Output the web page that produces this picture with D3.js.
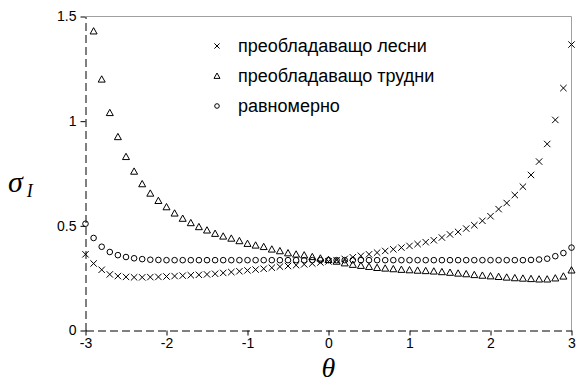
<!DOCTYPE html>
<html>
<head>
<meta charset="utf-8">
<script src="https://cdn.jsdelivr.net/npm/d3@7"></script>
<style>
  html, body { margin: 0; padding: 0; background: #fff; }
  svg { display: block; }
</style>
</head>
<body>
<svg id="chart" width="578" height="388"></svg>
<script>
// ---- data ----
const theta = [-3.0,-2.9,-2.8,-2.7,-2.6,-2.5,-2.4,-2.3,-2.2,-2.1,
  -2.0,-1.9,-1.8,-1.7,-1.6,-1.5,-1.4,-1.3,-1.2,-1.1,
  -1.0,-0.9,-0.8,-0.7,-0.6,-0.5,-0.4,-0.3,-0.2,-0.1,
  0.0,0.1,0.2,0.3,0.4,0.5,0.6,0.7,0.8,0.9,
  1.0,1.1,1.2,1.3,1.4,1.5,1.6,1.7,1.8,1.9,
  2.0,2.1,2.2,2.3,2.4,2.5,2.6,2.7,2.8,2.9,3.0];

const easy = [0.364,0.320,0.290,0.268,0.260,0.256,0.254,0.254,0.255,0.256,
  0.258,0.260,0.262,0.264,0.266,0.268,0.271,0.275,0.279,0.283,
  0.287,0.291,0.295,0.300,0.305,0.308,0.312,0.316,0.320,0.325,
  0.330,0.336,0.342,0.350,0.357,0.364,0.372,0.380,0.388,0.396,
  0.404,0.413,0.422,0.431,0.444,0.459,0.471,0.487,0.503,0.524,
  0.546,0.580,0.609,0.647,0.687,0.743,0.807,0.891,1.006,1.158,1.366];

const hard = [null,1.430,1.200,1.040,0.925,0.830,0.760,0.700,0.655,0.620,
  0.590,0.560,0.535,0.514,0.495,0.479,0.463,0.450,0.440,0.428,
  0.415,0.407,0.400,0.388,0.380,0.370,0.364,0.360,0.352,0.345,
  0.338,0.330,0.322,0.315,0.310,0.305,0.300,0.297,0.294,0.291,
  0.289,0.287,0.285,0.283,0.280,0.277,0.273,0.270,0.266,0.263,
  0.260,0.257,0.254,0.251,0.249,0.247,0.245,0.245,0.250,0.259,0.288];

const uniform = [0.510,0.442,0.400,0.375,0.360,0.351,0.345,0.341,0.338,0.337,
  0.336,0.336,0.336,0.336,0.336,0.336,0.336,0.336,0.336,0.336,
  0.336,0.336,0.336,0.336,0.336,0.336,0.336,0.336,0.336,0.336,
  0.336,0.336,0.336,0.336,0.336,0.336,0.336,0.336,0.336,0.336,
  0.336,0.336,0.336,0.336,0.336,0.336,0.336,0.336,0.336,0.336,
  0.336,0.336,0.336,0.336,0.336,0.337,0.339,0.343,0.355,0.370,0.396];

const seriesNames = ["преобладаващо лесни", "преобладаващо трудни", "равномерно"];
const xTicks = [-3,-2,-1,0,1,2,3];
const yTicks = [0,0.5,1,1.5];
const xTickLabels = ["-3","-2","-1","0","1","2","3"];
const yTickLabels = ["0","0.5","1","1.5"];

// ---- drawing ----
const svg = d3.select("#chart");
const x = d3.scaleLinear().domain([-3, 3]).range([85.5, 571.5]);
const y = d3.scaleLinear().domain([0, 1.5]).range([330.5, 16.5]);

// top & right border (grey)
svg.append("line").attr("x1", x(-3)).attr("x2", x(3)).attr("y1", y(1.5)).attr("y2", y(1.5))
  .attr("stroke", "#a0a0a0").attr("stroke-width", 1);
svg.append("line").attr("x1", x(3)).attr("x2", x(3)).attr("y1", y(1.5)).attr("y2", y(0))
  .attr("stroke", "#a0a0a0").attr("stroke-width", 1);

const font = "'Liberation Sans', Arial, sans-serif";

// axes
const xAxis = d3.axisBottom(x).tickValues(xTicks)
  .tickFormat((d, i) => xTickLabels[i]).tickSizeInner(5).tickSizeOuter(0).tickPadding(3);
const gx = svg.append("g").attr("transform", `translate(0,${y(0)})`).call(xAxis);
gx.select(".domain").attr("stroke", "#000").attr("stroke-dasharray", "8,4");
gx.selectAll(".tick line").attr("stroke", "#000");
gx.selectAll(".tick text").attr("font-family", font).attr("font-size", 14).attr("fill", "#000");

const yAxis = d3.axisLeft(y).tickValues(yTicks)
  .tickFormat((d, i) => yTickLabels[i]).tickSizeInner(5).tickSizeOuter(0).tickPadding(4);
const gy = svg.append("g").attr("transform", `translate(${x(-3)},0)`).call(yAxis);
gy.select(".domain").attr("stroke", "#000").attr("stroke-dasharray", "8,4");
gy.selectAll(".tick line").attr("stroke", "#000");
gy.selectAll(".tick text").attr("font-family", font).attr("font-size", 14).attr("fill", "#000");

// marker generators
function drawCross(g, cx, cy, s) {
  g.append("path").attr("d", `M${cx - s},${cy - s}L${cx + s},${cy + s}M${cx - s},${cy + s}L${cx + s},${cy - s}`)
    .attr("stroke", "#000").attr("stroke-width", 1).attr("fill", "none");
}
function drawTri(g, cx, cy, s) {
  g.append("path").attr("d", `M${cx},${cy - s}L${cx + s},${cy + s * 0.8}L${cx - s},${cy + s * 0.8}Z`)
    .attr("stroke", "#000").attr("stroke-width", 1).attr("fill", "none");
}
function drawCirc(g, cx, cy, r) {
  g.append("circle").attr("cx", cx).attr("cy", cy).attr("r", r)
    .attr("stroke", "#000").attr("stroke-width", 1).attr("fill", "none");
}

const marks = svg.append("g");
theta.forEach((t, i) => {
  if (uniform[i] != null) drawCirc(marks, x(t), y(uniform[i]), 2.8);
  if (hard[i] != null) drawTri(marks, x(t), y(hard[i]), 3.5);
  if (easy[i] != null) drawCross(marks, x(t), y(easy[i]), 3.2);
});

// legend
const legend = svg.append("g");
const lx = 217, ly = [46, 76, 106];
drawCross(legend, lx, ly[0], 2.6);
drawTri(legend, lx, ly[1], 3);
drawCirc(legend, lx, ly[2], 2.3);
seriesNames.forEach((n, i) => {
  legend.append("text").attr("x", 238).attr("y", ly[i]).attr("dy", "0.35em")
    .attr("font-family", font).attr("font-size", 18).attr("fill", "#000").text(n);
});

// axis titles
svg.append("text").attr("x", x(0)).attr("y", 377).attr("text-anchor", "middle")
  .attr("font-family", "'Liberation Serif', 'Times New Roman', serif").attr("font-style", "italic")
  .attr("font-size", 28).attr("fill", "#000").text("θ");

const yt = svg.append("text").attr("x", 8).attr("y", 192)
  .attr("font-family", "'Liberation Serif', 'Times New Roman', serif").attr("font-style", "italic")
  .attr("fill", "#000");
yt.append("tspan").attr("font-size", 30).text("σ");
yt.append("tspan").attr("font-size", 18).attr("dx", 4).attr("dy", 5).text("I");
</script>
</body>
</html>
